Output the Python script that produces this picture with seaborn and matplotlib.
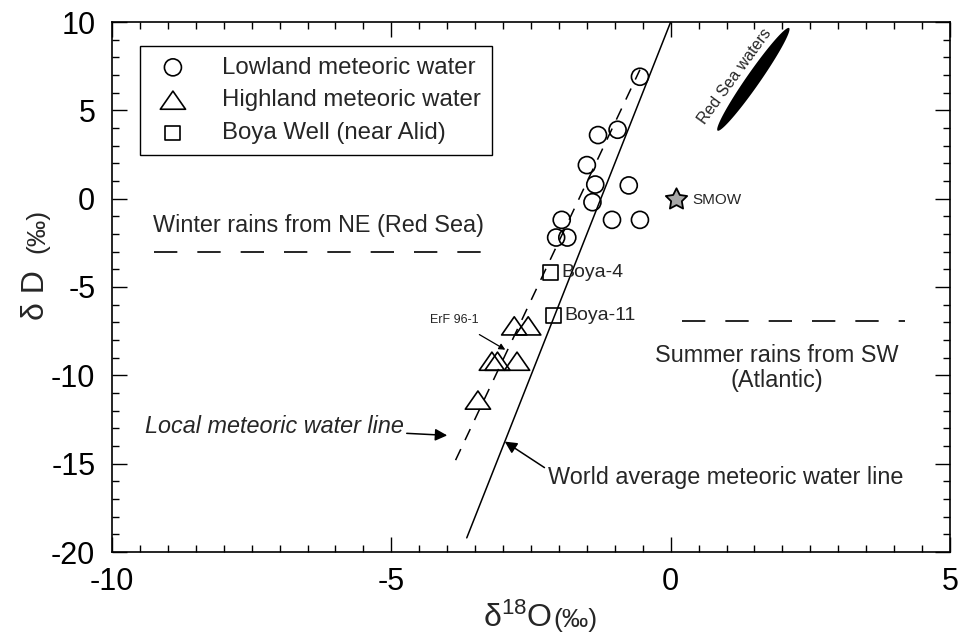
"""
Stable isotope plot: dD vs d18O for Alid area waters.
"""

import matplotlib.pyplot as plt
import numpy as np
import seaborn as sns
from matplotlib.path import Path
from matplotlib.ticker import MultipleLocator

# ==========================================================
# Data
# ==========================================================

LOWLAND_D18O = [-0.55, -1.3, -0.95, -1.5, -1.35, -1.4, -0.75, -1.05, -0.55, -1.95, -2.05, -1.85]
LOWLAND_DD = [6.9, 3.6, 3.9, 1.9, 0.8, -0.2, 0.75, -1.2, -1.2, -1.2, -2.2, -2.2]

HIGHLAND_D18O = [-2.8, -2.55, -3.2, -3.1, -2.75, -3.45]
HIGHLAND_DD = [-7.2, -7.2, -9.2, -9.2, -9.2, -11.4]

BOYA_NAMES = ["Boya-4", "Boya-11"]
BOYA_D18O = [-2.15, -2.1]
BOYA_DD = [-4.2, -6.6]

SMOW_D18O = [0.1]
SMOW_DD = [0.0]

# line end points
GMWL_D18O = [-3.65, 0.0]
GMWL_DD = [-19.2, 10.0]

LMWL_D18O = [-3.85, -0.55]
LMWL_DD = [-14.8, 7.3]

WINTER_D18O = [-9.25, -3.25]
WINTER_DD = [-3.0, -3.0]

SUMMER_D18O = [0.2, 4.2]
SUMMER_DD = [-6.9, -6.9]

# Red Sea waters field: long axis end points + half width
RED_SEA_START = (0.84, 3.85)
RED_SEA_END = (2.12, 9.66)
RED_SEA_HALF_WIDTH = (-0.1, 0.22)

X_TICKS = [-10, -5, 0, 5]
Y_TICKS = [-20, -15, -10, -5, 0, 5, 10]

# ==========================================================
# Style
# ==========================================================

sns.set_theme(style="ticks")
plt.rcParams["font.family"] = ["Liberation Sans", "DejaVu Sans"]
plt.rcParams["mathtext.fontset"] = "custom"
plt.rcParams["mathtext.rm"] = "Liberation Sans"
plt.rcParams["mathtext.it"] = "Liberation Sans:italic"
plt.rcParams["axes.unicode_minus"] = False

FS = 16.8
LEGEND_FS = 17.3
TICK_FS = 22
LABEL_FS = 23
PERMIL_FS = 19
INK = "black"


def red_sea_outline():

    c = (np.array(RED_SEA_START) + np.array(RED_SEA_END)) / 2
    a = (np.array(RED_SEA_END) - np.array(RED_SEA_START)) / 2
    b = np.array(RED_SEA_HALF_WIDTH)
    t = np.linspace(0, 2 * np.pi, 100)

    pts = c[None, :] + np.outer(np.cos(t), a) + np.outer(np.sin(t), b)

    return pts[:, 0], pts[:, 1]


def main():

    fig = plt.figure(figsize=(9.59, 6.35), dpi=100)
    ax = fig.add_axes([112 / 959, 1 - 552 / 635, 838 / 959, 530 / 635])

    # ------------------------------------------------------
    # Lines
    # ------------------------------------------------------

    ax.plot(GMWL_D18O, GMWL_DD, color=INK, lw=1.1, zorder=2)

    ax.plot(LMWL_D18O, LMWL_DD, color=INK, lw=1.1,
            dashes=(8, 6.5), zorder=2)

    ax.plot(WINTER_D18O, WINTER_DD, color=INK, lw=1.2,
            dashes=(14, 12), zorder=2)

    ax.plot(SUMMER_D18O, SUMMER_DD, color=INK, lw=1.2,
            dashes=(14, 12), zorder=2)

    ex, ey = red_sea_outline()
    ax.fill(ex, ey, color=INK, lw=0, zorder=2)

    # ------------------------------------------------------
    # Samples
    # ------------------------------------------------------

    tri = Path([(-1, -0.72), (1, -0.72), (0, 0.72), (-1, -0.72)],
               [Path.MOVETO, Path.LINETO, Path.LINETO, Path.CLOSEPOLY])

    sns.scatterplot(x=LOWLAND_D18O, y=LOWLAND_DD, marker="o", s=150,
                    facecolor="none", edgecolor=INK, linewidth=1.2,
                    label="Lowland meteoric water", ax=ax, zorder=3)

    sns.scatterplot(x=HIGHLAND_D18O, y=HIGHLAND_DD, marker=tri, s=330,
                    facecolor="none", edgecolor=INK, linewidth=1.2,
                    label="Highland meteoric water", ax=ax, zorder=3)

    sns.scatterplot(x=BOYA_D18O, y=BOYA_DD, marker="s", s=115,
                    facecolor="none", edgecolor=INK, linewidth=1.2,
                    label="Boya Well (near Alid)", ax=ax, zorder=3)

    sns.scatterplot(x=SMOW_D18O, y=SMOW_DD, marker=(5, 1, 0), s=260,
                    facecolor="#a8a8a8", edgecolor=INK, linewidth=1.3,
                    ax=ax, zorder=3)

    # ------------------------------------------------------
    # Labels / annotations
    # ------------------------------------------------------

    for name, x, y in zip(BOYA_NAMES, BOYA_D18O, BOYA_DD):
        ax.text(x + 0.2, y, name, fontsize=14, ha="left", va="center")

    ax.text(0.38, -0.1, "SMOW", fontsize=11, ha="left", va="center")

    ax.text(1.15, 6.95, "Red Sea waters", fontsize=11.5, rotation=54,
            ha="center", va="center", rotation_mode="anchor")

    ax.text(-6.3, -1.5, "Winter rains from NE (Red Sea)", fontsize=FS,
            ha="center", va="center")

    ax.text(1.9, -9.6, "Summer rains from SW\n(Atlantic)", fontsize=FS,
            ha="center", va="center", linespacing=1.1)

    ax.annotate("ErF 96-1", xy=(-2.96, -8.55), xytext=(-3.88, -6.85),
                fontsize=9, ha="center", va="center",
                arrowprops=dict(arrowstyle="-|>", color=INK, lw=0.9,
                                mutation_scale=9, shrinkA=8, shrinkB=0))

    ax.annotate("Local meteoric water line", xy=(-4.0, -13.4),
                xytext=(-7.1, -12.9), fontsize=FS, style="italic",
                ha="center", va="center",
                arrowprops=dict(arrowstyle="-|>", color=INK, lw=1.1,
                                mutation_scale=18, shrinkA=0, shrinkB=0))

    ax.annotate("World average meteoric water line", xy=(-2.97, -13.75),
                xytext=(-2.2, -15.8), fontsize=FS, ha="left", va="center",
                arrowprops=dict(arrowstyle="-|>", color=INK, lw=1.1,
                                mutation_scale=18, shrinkA=0, shrinkB=0,
                                relpos=(0.0, 0.85)))

    # ------------------------------------------------------
    # Legend
    # ------------------------------------------------------

    leg = ax.legend(loc="upper left", bbox_to_anchor=(0.034, 0.955),
                    borderaxespad=0, fontsize=LEGEND_FS, frameon=True,
                    fancybox=False, edgecolor=INK, framealpha=1,
                    labelspacing=0.45, handlelength=1.8,
                    handletextpad=1.15, borderpad=0.45, scatterpoints=1)
    leg.get_frame().set_linewidth(1.0)

    # ------------------------------------------------------
    # Axes
    # ------------------------------------------------------

    ax.set_xlim(-10, 5)
    ax.set_ylim(-20, 10)
    ax.set_xticks(X_TICKS)
    ax.set_yticks(Y_TICKS)
    ax.xaxis.set_minor_locator(MultipleLocator(0.5))
    ax.yaxis.set_minor_locator(MultipleLocator(1))

    ax.tick_params(which="both", direction="in", top=True, right=True,
                   colors=INK, width=1.0)
    ax.tick_params(which="major", length=11, labelsize=TICK_FS)
    ax.tick_params(axis="x", which="major", pad=11)
    ax.tick_params(axis="y", which="major", pad=12)
    ax.tick_params(which="minor", length=5)

    for sp in ax.spines.values():
        sp.set_color(INK)
        sp.set_linewidth(1.2)

    # axis titles: main symbol large, per-mille part smaller
    fig.text(552 / 959, 1 - 627 / 635, "δ$^{18}$O", fontsize=LABEL_FS,
             ha="right", va="baseline")
    fig.text(553 / 959, 1 - 627 / 635, "(‰)", fontsize=PERMIL_FS,
             ha="left", va="baseline")

    fig.text(44 / 959, 1 - 320 / 635, "δ D", fontsize=LABEL_FS,
             rotation=90, rotation_mode="anchor", ha="left", va="baseline")
    fig.text(44 / 959, 1 - 253 / 635, "(‰)", fontsize=PERMIL_FS,
             rotation=90, rotation_mode="anchor", ha="left", va="baseline")

    fig.savefig("out.png", dpi=100)
    plt.close(fig)


if __name__ == "__main__":

    main()
